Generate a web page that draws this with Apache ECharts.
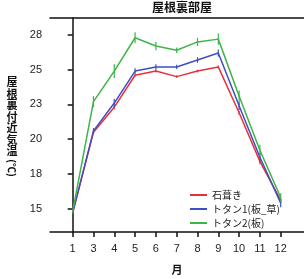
<!DOCTYPE html>
<html><head><meta charset="utf-8">
<script src="https://cdn.jsdelivr.net/npm/echarts@6/dist/echarts.min.js"></script>
<style>html,body{margin:0;padding:0;background:#fff}#c{width:304px;height:279px}</style>
</head><body><div id="c"></div>
<script>
const months = ['1','3','4','5','6','7','8','9','10','11','12'];
const seriesNames = ['石葺き', 'トタン1(板_草)', 'トタン2(板)'];
const ishibuki = [14.7, 20.5, 22.3, 24.6, 24.9, 24.5, 24.9, 25.2, 21.9, 18.4, 15.6];
const totan1 = [14.7, 20.6, 22.6, 24.9, 25.2, 25.2, 25.7, 26.2, 22.4, 18.7, 15.4];
const totan2 = [14.8, 22.7, 24.9, 27.3, 26.7, 26.4, 27.0, 27.2, 23.1, 19.2, 15.8];
const errIshibuki = [0.1, 0.1, 0.15, 0.1, 0.1, 0.1, 0.1, 0.1, 0.15, 0.2, 0.15];
const errTotan1 = [0.1, 0.2, 0.3, 0.2, 0.2, 0.15, 0.2, 0.25, 0.3, 0.3, 0.3];
const errTotan2 = [0.1, 0.4, 0.5, 0.4, 0.3, 0.2, 0.3, 0.4, 0.4, 0.4, 0.3];
const yTicks = [15, 17.5, 20, 22.5, 25, 27.5];
const yAxisName = '屋根裏付近気温';
const colors = ['#e8313a', '#3f4fc2', '#3cb54a'];

const chart = echarts.init(document.getElementById('c'), null, {renderer: 'canvas'});
const FONT = 'Liberation Sans, Arial, sans-serif';
const CJK = '"Noto Sans CJK JP", sans-serif';

function lineSeries(name, vals, color) {
  return {
    type: 'line', name: name, data: vals.map((v, i) => [i, v]),
    symbol: 'none', lineStyle: {color: color, width: 1.5}, itemStyle: {color: color},
    z: 3, animation: false
  };
}
function errSeries(vals, errs, color) {
  return {
    type: 'custom', data: vals.map((v, i) => [i, v, errs[i]]), z: 4, animation: false,
    silent: true,
    renderItem: function (params, api) {
      const x = api.value(0), v = api.value(1), e = api.value(2);
      const p1 = api.coord([x, v - e]);
      const p2 = api.coord([x, v + e]);
      return {type: 'line', shape: {x1: p1[0], y1: p1[1], x2: p2[0], y2: p2[1]},
        style: {stroke: color, lineWidth: 1.2}};
    }
  };
}

const nameGraphics = yAxisName.split('').map((ch, i) => ({
  type: 'text', x: 12, y: 82 + i * 11.5,
  style: {text: ch, font: 'bold 11px "Noto Sans CJK JP", sans-serif', fill: '#111', align: 'center', verticalAlign: 'middle'}
}));

const option = {
  backgroundColor: '#fff',
  animation: false,
  grid: {left: 50, top: 18, right: 0, bottom: 47, containLabel: false},
  xAxis: [{
    type: 'value', min: -1.09, max: 11.12,
    axisLine: {show: true, lineStyle: {color: '#111', width: 1.5}},
    axisTick: {show: true, inside: false, length: 5, lineStyle: {color: '#111', width: 1.5}, customValues: months.map((m, i) => i)},
    axisLabel: {show: true, margin: 11, fontFamily: FONT, fontSize: 11, color: '#222',
      customValues: months.map((m, i) => i), formatter: v => months[Math.round(v)]},
    splitLine: {show: false}
  }, {
    type: 'value', position: 'top', min: -1.09, max: 11.12,
    axisLine: {show: true, lineStyle: {color: '#111', width: 1.5}},
    axisTick: {show: false}, axisLabel: {show: false}, splitLine: {show: false}
  }],
  yAxis: {
    type: 'value', min: 13.32, max: 28.72,
    axisLine: {show: true, lineStyle: {color: '#111', width: 1.5}},
    axisTick: {show: true, length: 5, lineStyle: {color: '#111', width: 1.5}, customValues: yTicks},
    axisLabel: {show: true, margin: 8, fontFamily: FONT, fontSize: 11, color: '#222',
      customValues: yTicks, formatter: v => String(Math.floor(v + 0.5))},
    splitLine: {show: false}
  },
  legend: {
    show: true, orient: 'vertical', left: 185, top: 184, itemWidth: 17, itemHeight: 2, itemGap: 2,
    icon: 'rect', data: seriesNames,
    textStyle: {fontFamily: CJK, fontSize: 10, color: '#222', lineHeight: 12, padding: [0, 0, 0, 0]}
  },
  graphic: [
    {type: 'text', x: 182, y: 7, style: {text: '屋根裏部屋', font: 'bold 12px "Noto Sans CJK JP", sans-serif', fill: '#111', align: 'center', verticalAlign: 'middle'}},
    {type: 'text', x: 177, y: 270, style: {text: '月', font: 'bold 11px "Noto Sans CJK JP", sans-serif', fill: '#111', align: 'center', verticalAlign: 'middle'}},
    {type: 'text', x: 12, y: 168, rotation: -Math.PI / 2, style: {text: '(℃)', font: 'bold 10px "Noto Sans CJK JP", sans-serif', fill: '#111', align: 'center', verticalAlign: 'middle'}}
  ].concat(nameGraphics),
  series: [
    lineSeries(seriesNames[0], ishibuki, colors[0]),
    lineSeries(seriesNames[1], totan1, colors[1]),
    lineSeries(seriesNames[2], totan2, colors[2]),
    errSeries(ishibuki, errIshibuki, colors[0]),
    errSeries(totan1, errTotan1, colors[1]),
    errSeries(totan2, errTotan2, colors[2])
  ]
};
chart.setOption(option);
</script></body></html>
